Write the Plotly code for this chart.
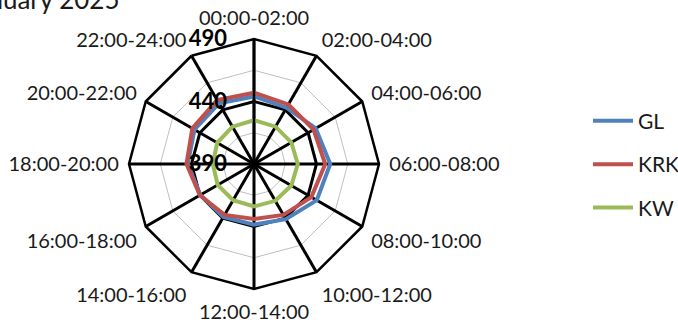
import plotly.graph_objects as go

# Two-hour time slots, clockwise from the top
slots = [
    "00:00-02:00", "02:00-04:00", "04:00-06:00", "06:00-08:00",
    "08:00-10:00", "10:00-12:00", "12:00-14:00", "14:00-16:00",
    "16:00-18:00", "18:00-20:00", "20:00-22:00", "22:00-24:00",
]
gl = [444, 442, 447, 451, 448, 441, 438.5, 439, 439.5, 443, 445, 446]
krk = [447, 445, 445, 447, 443, 437, 434, 437, 440, 444, 447, 449]
kw = [425, 424.5, 424.5, 425, 424.5, 424, 424, 423.5, 423.5, 423, 424, 424.5]

radial_ticks = [390, 440, 490]
minor_rings = [415, 465]
r_range = [390, 490]

series = [("GL", gl, "#4F81BD"), ("KRK", krk, "#C0504D"), ("KW", kw, "#9BBB59")]

FONT = "Lato"
W, H = 678, 322
cx, cy, R = 254, 164, 125

fig = go.Figure()

# invisible trace so the lower polar gets the category angles
fig.add_trace(go.Scatterpolar(
    r=gl, theta=slots, mode="lines", line=dict(width=0), opacity=0,
    showlegend=False, hoverinfo="skip", subplot="polar",
))

for i, (name, vals, color) in enumerate(series):
    fig.add_trace(go.Scatterpolar(
        r=vals + vals[:1], theta=slots + slots[:1], mode="lines", name=name,
        line=dict(color=color, width=4), legendgroup=str(i),
        subplot="polar2",
    ))

domain = dict(
    x=[(cx - R) / W, (cx + R) / W],
    y=[(H - cy - R) / H, (H - cy + R) / H],
)

angular_common = dict(
    type="category", categoryorder="array", categoryarray=slots,
    direction="clockwise", rotation=90,
)

fig.update_layout(
    width=W, height=H,
    margin=dict(l=0, r=0, t=0, b=0, autoexpand=False),
    paper_bgcolor="white",
    font=dict(family=FONT, color="#1a1a1a"),
    polar=dict(
        domain=domain, gridshape="linear", bgcolor="white",
        radialaxis=dict(range=r_range, tickvals=minor_rings, showticklabels=False,
                        ticks="", showline=False, gridcolor="#BFBFBF", gridwidth=1),
        angularaxis=dict(**angular_common, showgrid=False, showline=False,
                         showticklabels=False, ticks=""),
    ),
    polar2=dict(
        domain=domain, gridshape="linear", bgcolor="rgba(0,0,0,0)",
        radialaxis=dict(
            range=r_range, tickvals=radial_ticks, angle=90, tickangle=90,
            side="counterclockwise", showline=True, linecolor="black", linewidth=2.5,
            gridcolor="black", gridwidth=2.5,
            ticks="outside", ticklen=18, tickcolor="rgba(0,0,0,0)",
            tickfont=dict(family=FONT, size=22, color="black", weight="bold"),
        ),
        angularaxis=dict(
            **angular_common, showline=True, linecolor="black", linewidth=2.5,
            showgrid=True, gridcolor="black", gridwidth=2.5,
            ticks="outside", ticklen=5, tickcolor="rgba(0,0,0,0)",
            tickfont=dict(family=FONT, size=20, color="#1a1a1a"),
        ),
    ),
    legend=dict(
        x=588 / W, y=0.49, xanchor="left", yanchor="middle",
        font=dict(family=FONT, size=21, color="#1a1a1a"),
        tracegroupgap=13, bgcolor="rgba(0,0,0,0)", itemwidth=40,
    ),
    annotations=[dict(
        text="January 2025", xref="paper", yref="paper",
        x=122 / W, y=(H - 17) / H, xanchor="right", yanchor="bottom",
        showarrow=False, font=dict(family=FONT, size=26, color="#1a1a1a"),
    )],
)

fig.write_html("out.html")
